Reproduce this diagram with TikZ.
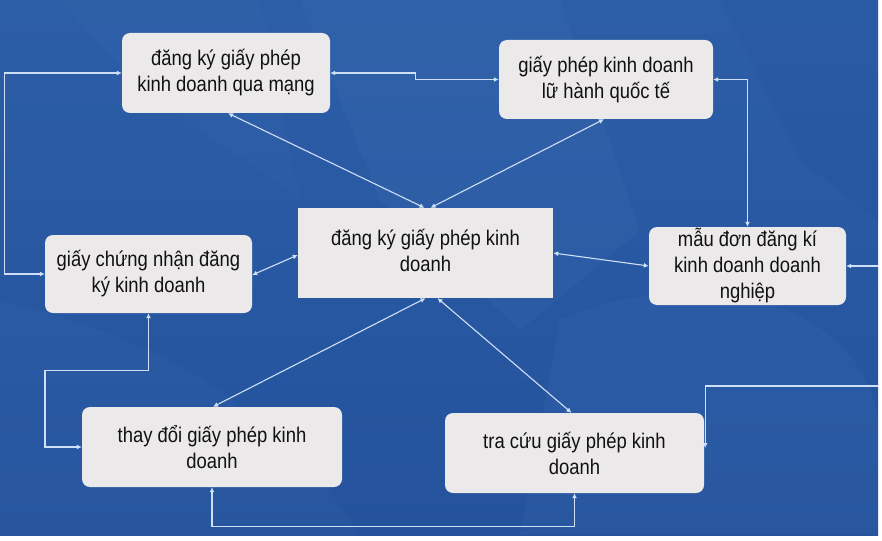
\documentclass[tikz,border=0pt]{standalone}
\usepackage{fontspec}
\setmainfont[FakeStretch=0.87]{Liberation Sans}
\usetikzlibrary{arrows.meta,calc}
\definecolor{bgblue}{HTML}{2C5EA7}
\definecolor{bgdark}{HTML}{24529C}
\definecolor{bglight}{HTML}{4A7CC0}
\definecolor{boxfill}{HTML}{EBE9EA}
\definecolor{txt}{HTML}{111111}
\definecolor{lnc}{HTML}{CFE0F6}
\tikzset{
  box/.style={fill=boxfill, rounded corners=8pt, align=center, text=txt,
    font=\fontsize{21.2}{26}\selectfont, inner sep=0pt},
  cbox/.style={box, rounded corners=0pt},
  conn/.style={draw=lnc, line width=1.1pt},
  bi/.style={conn, {Latex[length=5pt,width=5pt]}-{Latex[length=5pt,width=5pt]}},
  one/.style={conn, -{Latex[length=5pt,width=5pt]}}
}
\begin{document}
\begin{tikzpicture}[x=1pt,y=-1pt]
\useasboundingbox (0,0) rectangle (882,540);
\fill[white] (0,0) rectangle (882,540);
% background
\shade[top color=bgblue, bottom color=bgdark] (0,0) rectangle (878,535);
\fill[bglight, opacity=0.13] (300,0) -- (560,0) -- (640,230) -- (520,330) -- (380,200) -- cycle;
\fill[bglight, opacity=0.13] (560,320) .. controls (700,260) and (860,300) .. (878,420) -- (878,535) -- (520,535) -- cycle;
\fill[bglight, opacity=0.10] (0,300) .. controls (120,330) and (260,380) .. (360,535) -- (0,535) -- cycle;
\fill[bgdark, opacity=0.25] (720,0) -- (878,0) -- (878,220) -- (800,160) -- cycle;
\fill[bglight, opacity=0.08] (60,0) .. controls (160,120) and (240,150) .. (300,200) -- (260,0) -- cycle;

% nodes
\node[box, minimum width=208pt, minimum height=80pt] (b1) at (226,73)
  {đăng ký giấy phép\\kinh doanh qua mạng};
\node[box, minimum width=214pt, minimum height=79pt] (b2) at (606,79.5)
  {giấy phép kinh doanh\\lữ hành quốc tế};
\node[cbox, minimum width=255pt, minimum height=90pt] (c) at (425.5,253)
  {\raisebox{9pt}{\begin{tabular}{@{}c@{}}đăng ký giấy phép kinh\\doanh\end{tabular}}};
\node[box, minimum width=207pt, minimum height=78pt] (b4) at (148.5,274)
  {giấy chứng nhận đăng\\ký kinh doanh};
\node[box, minimum width=197pt, minimum height=78pt] (b5) at (747.5,266)
  {mẫu đơn đăng kí\\kinh doanh doanh\\nghiệp};
\node[box, minimum width=260pt, minimum height=80pt] (b6) at (212,447)
  {thay đổi giấy phép kinh\\doanh};
\node[box, minimum width=259pt, minimum height=80pt] (b7) at (574.5,453)
  {tra cứu giấy phép kinh\\doanh};

\coordinate (rt1) at (878,266);
\coordinate (rt2) at (878,386);

% connectors
\draw[bi] (b4.west) -- ++(-40,0) |- (b1.west);
\draw[bi] (b1.east) -- ++(85,0) |- (b2.west);
\draw[bi] (b2.east) -| (b5.north);
\draw[one] (rt1) -- (b5.east);
\draw[one] (rt2) -| ($(b7.east)+(1,-5)$);
\draw[bi] ($(b1.south)+(2,0)$) -- ($(c.north)+(-1,0)$);
\draw[bi] ($(b2.south)+(-2,0)$) -- ($(c.north)+(5,0)$);
\draw[bi] ($(b4.east)+(0,1)$) -- ($(c.west)+(0,2)$);
\draw[bi] (c.east) -- (b5.west);
\draw[bi] ($(c.south)+(0,0)$) -- ($(b6.north)+(1,0)$);
\draw[bi] ($(c.south)+(12,0)$) -- ($(b7.north)+(-3,0)$);
\draw[bi] (b4.south) -- ++(0,57) -| ++(-103.5,0) |- (b6.west);
\draw[bi] (b6.south) -- ++(0,39) -| (b7.south);
\end{tikzpicture}
\end{document}
